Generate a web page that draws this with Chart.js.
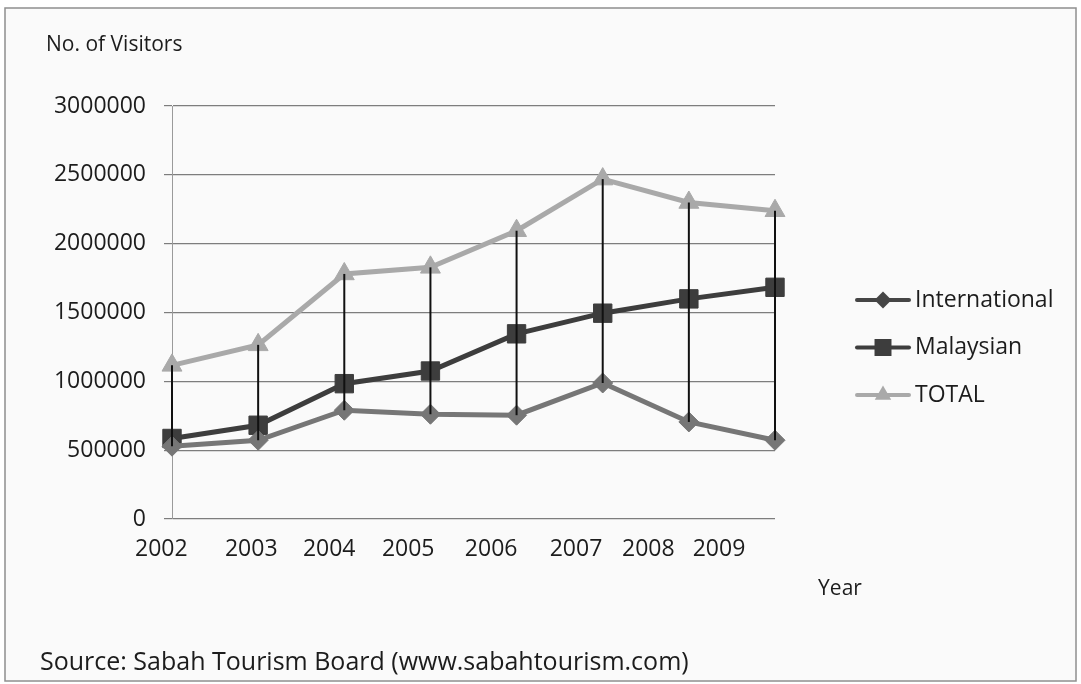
<!DOCTYPE html>
<html><head><meta charset="utf-8">
<script src="https://cdn.jsdelivr.net/npm/chart.js@4.4.1/dist/chart.umd.min.js"></script>
<style>html,body{margin:0;padding:0;background:#fff;}canvas{display:block;}</style>
</head><body>
<canvas id="c" width="1081" height="684"></canvas>
<script>
// ---- data ----
const years = ['2002','2003','2004','2005','2006','2007','2008','2009'];
const international = [529000, 572000, 790000, 761000, 754000, 988000, 705000, 572000];
const malaysian = [585000, 681000, 983000, 1075000, 1345000, 1495000, 1599000, 1683000];
const total = [1116000, 1265000, 1780000, 1828000, 2094000, 2469000, 2299000, 2239000];
const seriesNames = ['International', 'Malaysian', 'TOTAL'];
const yTickValues = [0, 500000, 1000000, 1500000, 2000000, 2500000, 3000000];

// ---- layout / style (not data) ----
const yearLabelPos = [2001.876, 2002.92, 2003.825, 2004.742, 2005.705, 2006.69, 2007.53, 2008.35];
const FONT = "'Open Sans', sans-serif";
const TEXT = '#1c1c1c';
const styles = [
  {line:'#767676', legend:'#454545', shape:'rectRot', r:10, lr:8.5},
  {line:'#3d3d3d', legend:'#3d3d3d', shape:'rect',    r:13, lr:12},
  {line:'#a9a9a9', legend:'#a9a9a9', shape:'triangle',r:11.5, lr:9.5}
];

const frame = {
  id:'frame',
  beforeDraw(chart){
    const ctx = chart.ctx;
    ctx.save();
    ctx.fillStyle = '#fafafa';
    ctx.fillRect(5, 8, 1071, 673);
    ctx.strokeStyle = '#8f8f8f';
    ctx.lineWidth = 1.5;
    ctx.strokeRect(5, 8, 1071, 673);
    ctx.restore();
  }
};

const highLow = {
  id:'highLow',
  afterDatasetsDraw(chart){
    const ctx = chart.ctx, y = chart.scales.y;
    const meta = chart.getDatasetMeta(0);
    ctx.save();
    ctx.strokeStyle = '#111';
    ctx.lineWidth = 2;
    years.forEach((yr, i) => {
      const vals = [international[i], malaysian[i], total[i]];
      const px = meta.data[i].x;
      ctx.beginPath();
      ctx.moveTo(px, y.getPixelForValue(Math.max(...vals)));
      ctx.lineTo(px, y.getPixelForValue(Math.min(...vals)));
      ctx.stroke();
    });
    ctx.restore();
  }
};

function shape(ctx, kind, x, y, r, color){
  ctx.fillStyle = color;
  ctx.beginPath();
  if (kind === 'rectRot'){
    ctx.moveTo(x, y - r); ctx.lineTo(x + r, y); ctx.lineTo(x, y + r); ctx.lineTo(x - r, y);
  } else if (kind === 'rect'){
    const h = r * Math.SQRT1_2;
    ctx.rect(x - h, y - h, 2*h, 2*h);
  } else {
    ctx.moveTo(x, y - r);
    ctx.lineTo(x + r*Math.sin(2*Math.PI/3), y + r*0.5);
    ctx.lineTo(x - r*Math.sin(2*Math.PI/3), y + r*0.5);
  }
  ctx.closePath();
  ctx.fill();
}

const texts = {
  id:'texts',
  afterDraw(chart){
    const ctx = chart.ctx;
    ctx.save();
    ctx.fillStyle = TEXT;
    ctx.textBaseline = 'middle';
    ctx.textAlign = 'left';
    ctx.font = "21px " + FONT;
    ctx.fillText('No. of Visitors', 46, 45);
    ctx.textAlign = 'center';
    ctx.font = "21px " + FONT;
    ctx.fillText('Year', 840, 589);
    ctx.textAlign = 'left';
    ctx.font = "25px " + FONT;
    ctx.fillText('Source: Sabah Tourism Board (www.sabahtourism.com)', 40, 663);
    // legend
    ctx.font = "23px " + FONT;
    chart.data.datasets.forEach((ds, i) => {
      const st = styles[i];
      const ly = 300 + i * 47.5;
      ctx.strokeStyle = st.legend;
      ctx.lineWidth = 4;
      ctx.lineCap = 'round';
      ctx.beginPath(); ctx.moveTo(857, ly); ctx.lineTo(909, ly); ctx.stroke();
      shape(ctx, st.shape, 883, ly, st.lr, st.legend);
      ctx.fillStyle = TEXT;
      ctx.fillText(ds.label, 915, ly);
    });
    ctx.restore();
  }
};

const seriesData = [international, malaysian, total];
const datasets = seriesData.map((d, i) => ({
  label: seriesNames[i],
  data: d,
  borderColor: styles[i].line,
  backgroundColor: styles[i].line,
  pointBackgroundColor: styles[i].line,
  pointBorderColor: styles[i].line,
  pointBorderWidth: 1,
  borderWidth: 5,
  pointStyle: styles[i].shape,
  pointRadius: styles[i].r,
  pointHoverRadius: styles[i].r,
  tension: 0,
  clip: false,
  fill: false
}));

new Chart(document.getElementById('c'), {
  type: 'line',
  data: { labels: years, datasets },
  plugins: [frame, highLow, texts],
  options: {
    responsive: false,
    animation: false,
    events: [],
    layout: { padding: { left: 0, right: 306, top: 106, bottom: 0 } },
    plugins: { legend: { display: false }, tooltip: { enabled: false }, title: { display: false } },
    scales: {
      x: { type: 'linear', min: 2002, max: 2009, display: false },
      yearAxis: {
        type: 'linear', position: 'bottom', min: 2002, max: 2009,
        grid: { display: false, drawTicks: false },
        border: { display: false },
        afterBuildTicks: s => { s.ticks = yearLabelPos.map(v => ({ value: v })); },
        afterFit: s => { s.height = 165; },
        ticks: {
          autoSkip: false, maxRotation: 0, minRotation: 0, padding: 17,
          color: TEXT, font: { family: FONT, size: 23 },
          callback: (v, i) => years[i]
        }
      },
      y: {
        type: 'linear', min: 0, max: 3000000,
        afterBuildTicks: s => { s.ticks = yTickValues.map(v => ({ value: v })); },
        afterFit: s => { s.width = 172; },
        grid: { color: '#7d7d7d', lineWidth: 1.2, tickLength: 8, drawTicks: true },
        border: { display: true, color: '#9a9a9a', width: 1 },
        ticks: {
          padding: 18, color: TEXT, font: { family: FONT, size: 23 },
          callback: v => String(v)
        }
      }
    }
  }
});
</script>
</body></html>
